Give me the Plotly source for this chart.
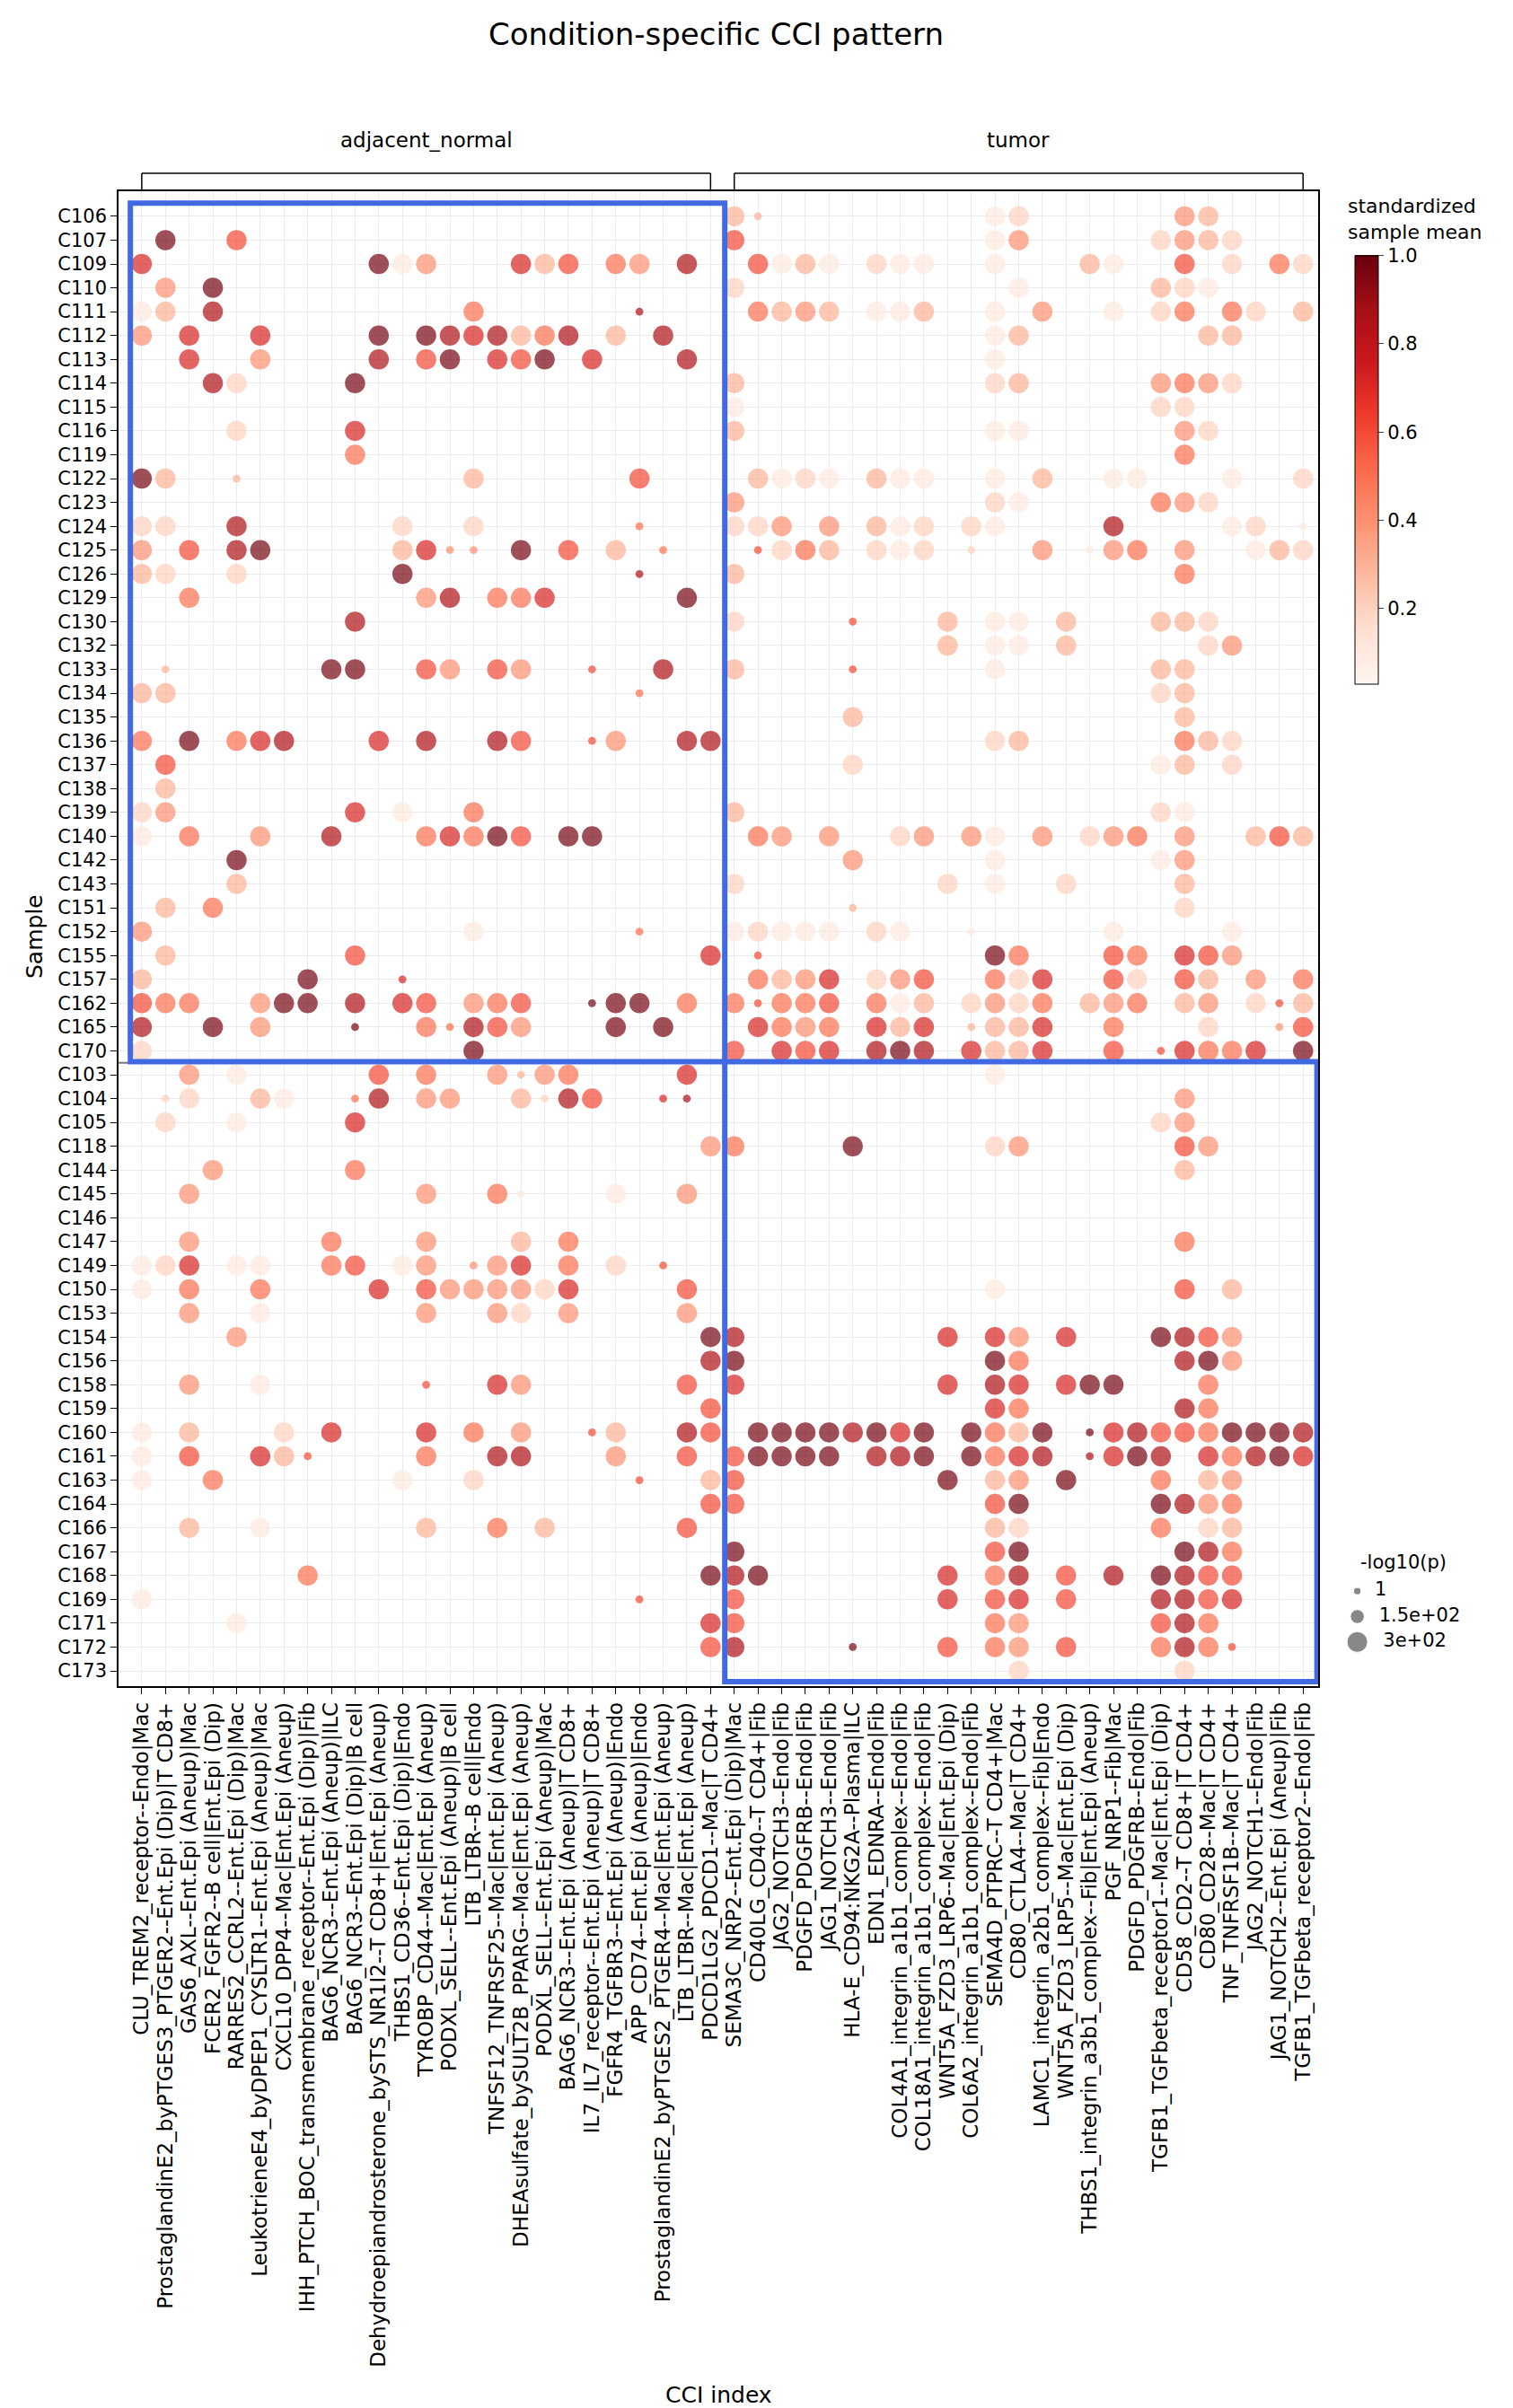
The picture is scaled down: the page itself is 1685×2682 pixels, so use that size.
import plotly.graph_objects as go
import plotly.express as px

cci_labels = [
    "CLU_TREM2_receptor--Endo|Mac",
    "ProstaglandinE2_byPTGES3_PTGER2--Ent.Epi (Dip)|T CD8+",
    "GAS6_AXL--Ent.Epi (Aneup)|Mac",
    "FCER2_FGFR2--B cell|Ent.Epi (Dip)",
    "RARRES2_CCRL2--Ent.Epi (Dip)|Mac",
    "LeukotrieneE4_byDPEP1_CYSLTR1--Ent.Epi (Aneup)|Mac",
    "CXCL10_DPP4--Mac|Ent.Epi (Aneup)",
    "IHH_PTCH_BOC_transmembrane_receptor--Ent.Epi (Dip)|Fib",
    "BAG6_NCR3--Ent.Epi (Aneup)|ILC",
    "BAG6_NCR3--Ent.Epi (Dip)|B cell",
    "Dehydroepiandrosterone_bySTS_NR1I2--T CD8+|Ent.Epi (Aneup)",
    "THBS1_CD36--Ent.Epi (Dip)|Endo",
    "TYROBP_CD44--Mac|Ent.Epi (Aneup)",
    "PODXL_SELL--Ent.Epi (Aneup)|B cell",
    "LTB_LTBR--B cell|Endo",
    "TNFSF12_TNFRSF25--Mac|Ent.Epi (Aneup)",
    "DHEAsulfate_bySULT2B_PPARG--Mac|Ent.Epi (Aneup)",
    "PODXL_SELL--Ent.Epi (Aneup)|Mac",
    "BAG6_NCR3--Ent.Epi (Aneup)|T CD8+",
    "IL7_IL7_receptor--Ent.Epi (Aneup)|T CD8+",
    "FGFR4_TGFBR3--Ent.Epi (Aneup)|Endo",
    "APP_CD74--Ent.Epi (Aneup)|Endo",
    "ProstaglandinE2_byPTGES2_PTGER4--Mac|Ent.Epi (Aneup)",
    "LTB_LTBR--Mac|Ent.Epi (Aneup)",
    "PDCD1LG2_PDCD1--Mac|T CD4+",
    "SEMA3C_NRP2--Ent.Epi (Dip)|Mac",
    "CD40LG_CD40--T CD4+|Fib",
    "JAG2_NOTCH3--Endo|Fib",
    "PDGFD_PDGFRB--Endo|Fib",
    "JAG1_NOTCH3--Endo|Fib",
    "HLA-E_CD94:NKG2A--Plasma|ILC",
    "EDN1_EDNRA--Endo|Fib",
    "COL4A1_integrin_a1b1_complex--Endo|Fib",
    "COL18A1_integrin_a1b1_complex--Endo|Fib",
    "WNT5A_FZD3_LRP6--Mac|Ent.Epi (Dip)",
    "COL6A2_integrin_a1b1_complex--Endo|Fib",
    "SEMA4D_PTPRC--T CD4+|Mac",
    "CD80_CTLA4--Mac|T CD4+",
    "LAMC1_integrin_a2b1_complex--Fib|Endo",
    "WNT5A_FZD3_LRP5--Mac|Ent.Epi (Dip)",
    "THBS1_integrin_a3b1_complex--Fib|Ent.Epi (Aneup)",
    "PGF_NRP1--Fib|Mac",
    "PDGFD_PDGFRB--Endo|Fib",
    "TGFB1_TGFbeta_receptor1--Mac|Ent.Epi (Dip)",
    "CD58_CD2--T CD8+|T CD4+",
    "CD80_CD28--Mac|T CD4+",
    "TNF_TNFRSF1B--Mac|T CD4+",
    "JAG2_NOTCH1--Endo|Fib",
    "JAG1_NOTCH2--Ent.Epi (Aneup)|Fib",
    "TGFB1_TGFbeta_receptor2--Endo|Fib",
]
groups = ["adjacent_normal", "tumor"]

samples_tumor_group = ["C106","C107","C109","C110","C111","C112","C113","C114","C115","C116","C119",
    "C122","C123","C124","C125","C126","C129","C130","C132","C133","C134","C135","C136","C137",
    "C138","C139","C140","C142","C143","C151","C152","C155","C157","C162","C165","C170"]
samples_normal_group = ["C103","C104","C105","C118","C144","C145","C146","C147","C149","C150","C153",
    "C154","C156","C158","C159","C160","C161","C163","C164","C166","C167","C168","C169","C171",
    "C172","C173"]
samples = samples_tumor_group + samples_normal_group

# entries "column:code"; digit = large dot (high -log10 p) with colour level 1-9,
# letter a-i = small dot (low -log10 p) with colour level 1-9
dots = {
"C106": "26:3 27:c 37:1 38:2 45:4 46:3",
"C107": "2:9 5:6 26:6 37:1 38:4 44:2 45:4 46:3 47:2",
"C109": "1:7 11:9 12:1 13:4 17:7 18:3 19:6 21:5 22:4 24:8 27:6 28:1 29:3 30:1 32:2 33:1 34:1 37:1 41:3 42:1 45:6 47:2 49:5 50:2",
"C110": "2:4 4:9 26:2 38:1 44:3 45:2 46:1",
"C111": "1:1 2:3 4:8 15:5 22:h 27:5 28:3 29:4 30:3 32:1 33:1 34:3 37:1 39:4 42:1 44:2 45:5 47:5 48:2 50:3",
"C112": "1:4 3:7 6:7 11:9 13:9 14:8 15:7 16:8 17:3 18:5 19:8 21:3 23:8 37:1 38:3 46:3 47:3",
"C113": "3:7 6:4 11:8 13:6 14:9 16:7 17:6 18:9 20:7 24:8 37:1",
"C114": "4:8 5:2 10:9 26:3 37:2 38:3 44:4 45:5 46:4 47:2",
"C115": "26:1 44:2 45:2",
"C116": "5:2 10:7 26:3 37:1 38:1 45:4 46:2",
"C119": "10:5 45:5",
"C122": "1:9 2:3 5:c 15:3 22:6 27:3 28:1 29:2 30:1 32:3 33:1 34:1 37:1 39:3 42:1 43:1 47:1 50:2",
"C123": "26:4 37:2 38:1 44:5 45:4 46:2",
"C124": "1:2 2:2 5:8 12:2 15:2 22:e 26:2 27:2 28:4 30:4 32:3 33:1 34:2 36:2 37:1 42:8 47:1 48:2 50:a",
"C125": "1:4 3:6 5:8 6:9 12:3 13:7 14:d 15:d 17:9 19:6 21:3 23:e 27:f 28:2 29:5 30:3 32:2 33:1 34:2 36:b 39:4 41:a 42:4 43:5 45:4 48:1 49:3 50:2",
"C126": "1:3 2:2 5:2 12:9 22:h 26:3 45:5",
"C129": "3:5 13:4 14:8 16:5 17:5 18:7 24:9",
"C130": "10:8 26:2 31:f 35:3 37:1 38:1 40:3 44:3 45:3 46:2",
"C132": "35:3 37:1 38:1 40:3 46:2 47:4",
"C133": "2:c 9:9 10:9 13:6 14:4 16:6 17:4 20:f 23:8 26:3 31:f 37:1 44:3 45:3",
"C134": "1:3 2:3 22:e 44:2 45:3",
"C135": "31:3 45:3",
"C136": "1:5 3:9 5:5 6:7 7:8 11:7 13:8 16:8 17:6 20:f 21:4 24:8 25:8 37:2 38:3 45:5 46:3 47:2",
"C137": "2:6 31:2 44:1 45:3 47:2",
"C138": "2:3",
"C139": "1:2 2:4 10:7 12:1 15:5 26:3 44:2 45:1",
"C140": "1:1 3:5 6:4 9:8 13:5 14:7 15:5 16:9 17:6 19:9 20:9 27:5 28:4 30:4 33:2 34:4 36:4 37:1 39:4 41:2 42:4 43:5 45:4 48:3 49:6 50:3",
"C142": "5:9 31:4 37:1 44:1 45:4",
"C143": "5:3 26:2 35:2 37:1 40:2 45:3",
"C151": "2:3 4:5 31:c 45:2",
"C152": "1:4 15:1 22:e 26:1 27:2 28:1 29:1 30:1 32:2 33:1 36:a 42:1 47:1",
"C155": "2:3 10:6 25:7 27:f 37:9 38:5 42:6 43:5 45:7 46:6 47:4",
"C157": "1:3 8:9 12:g 27:5 28:3 29:4 30:7 32:2 33:4 34:6 37:5 38:2 39:7 42:6 43:2 45:6 46:3 48:4 50:5",
"C162": "1:6 2:5 3:5 6:4 7:9 8:9 10:8 12:7 13:6 15:4 16:5 17:6 20:i 21:9 22:9 24:5 26:5 27:f 28:5 29:5 30:6 32:5 33:1 34:3 36:2 37:4 38:2 39:5 41:3 42:4 43:5 45:3 46:4 48:2 49:f 50:3",
"C165": "1:8 4:9 6:4 10:i 13:5 14:e 15:8 16:6 17:4 21:9 23:9 27:7 28:5 29:4 30:5 32:7 33:3 34:7 36:c 37:3 38:3 39:7 42:5 46:2 49:d 50:6",
"C170": "1:2 15:9 26:6 28:7 29:6 30:7 32:8 33:9 34:8 36:7 37:3 38:3 39:7 42:6 44:f 45:7 46:5 47:5 48:7 50:9",
"C103": "3:4 5:1 11:6 13:5 16:4 17:c 18:4 19:5 24:7 37:1",
"C104": "2:b 3:2 6:3 7:1 10:e 11:8 13:4 14:4 17:3 18:b 19:8 20:6 23:g 24:h 45:4",
"C105": "2:2 5:1 10:7 44:2 45:4",
"C118": "25:4 26:5 31:9 37:2 38:4 45:6 46:4",
"C144": "4:4 10:5 45:3",
"C145": "3:4 13:4 16:5 17:a 21:1 24:4",
"C146": "",
"C147": "3:4 9:5 13:4 17:3 19:5 45:5",
"C149": "1:1 2:2 3:7 5:1 6:1 9:5 10:6 12:1 13:4 15:d 16:4 17:7 19:5 21:2 23:f",
"C150": "1:1 3:5 6:5 11:7 13:6 14:4 15:4 16:4 17:4 18:2 19:7 24:6 37:1 45:6 47:3",
"C153": "3:4 6:1 13:4 16:4 17:2 19:4 24:4",
"C154": "5:4 25:9 26:8 35:7 37:7 38:4 40:7 44:9 45:8 46:6 47:4",
"C156": "25:8 26:9 37:9 38:5 45:8 46:9 47:4",
"C158": "3:4 6:1 13:f 16:7 17:4 24:6 26:7 35:7 37:8 38:7 40:7 41:9 42:9 46:5",
"C159": "25:6 37:7 38:5 45:8 46:5",
"C160": "1:1 3:3 7:2 9:7 13:7 15:5 17:4 20:f 21:3 24:8 25:6 27:9 28:9 29:9 30:9 31:8 32:9 33:7 34:9 36:9 37:5 38:3 39:9 41:i 42:7 43:8 44:6 45:6 46:5 47:9 48:9 49:9 50:8",
"C161": "1:1 3:6 6:7 7:3 8:f 13:5 16:8 17:8 21:4 24:6 26:6 27:9 28:9 29:9 30:9 32:8 33:8 34:9 36:9 37:5 38:7 39:8 41:h 42:7 43:9 44:8 46:7 47:5 48:8 49:9 50:7",
"C163": "1:1 4:5 12:1 15:2 22:f 25:3 26:6 35:9 37:3 38:4 40:9 44:5 46:3 47:4",
"C164": "25:6 26:6 37:6 38:9 44:9 45:8 46:4 47:5",
"C166": "3:3 6:1 13:3 16:5 18:3 24:6 37:3 38:2 44:5 46:2 47:3",
"C167": "26:9 37:6 38:9 45:9 46:8 47:5",
"C168": "8:5 25:9 26:8 27:9 35:7 37:5 38:8 40:6 42:8 44:9 45:8 46:6 47:6",
"C169": "1:1 22:f 26:6 35:7 37:6 38:7 40:6 44:8 45:8 46:6 47:7",
"C171": "5:1 25:7 26:6 37:5 38:4 44:6 45:8 46:5",
"C172": "25:6 26:8 31:i 35:6 37:5 38:4 40:6 44:5 45:8 46:5 47:f",
"C173": "38:2 45:2",
}
level_values = [0.1, 0.2, 0.3, 0.4, 0.5, 0.6, 0.72, 0.85, 0.97]
pval_large, pval_small = 290, 15
size_legend_vals = [1, 150, 300]
size_legend_text = ["1", "1.5e+02", "3e+02"]
cbar_ticks = [0.2, 0.4, 0.6, 0.8, 1.0]

def msize(v):
    return 8 + 15 * v / 300

xs, ys, cs, ss = [], [], [], []
for ri, s in enumerate(samples):
    for tok in dots[s].split():
        c, code = tok.split(":")
        if code.isdigit():
            lv, pv = int(code), pval_large
        else:
            lv, pv = ord(code) - ord("a") + 1, pval_small
        xs.append(int(c)); ys.append(ri)
        cs.append(level_values[lv - 1]); ss.append(msize(pv))

W, H = 1685, 2682
L, R, T, B = 124, 20, 205, 812
pw, ph = W - L - R, H - T - B
def px_x(p): return (p - L) / pw
def px_y(p): return (H - B - p) / ph

FONT = "DejaVu Sans"
fig = go.Figure()
fig.add_trace(go.Scatter(
    x=xs, y=ys, mode="markers",
    marker=dict(size=ss, color=cs, colorscale=px.colors.sequential.Reds, cmin=0.03, cmax=1.0,
                line=dict(width=0),
                colorbar=dict(x=px_x(1491), xanchor="left", y=px_y(515), yanchor="middle",
                              lenmode="pixels", len=497, thickness=26, outlinewidth=1,
                              outlinecolor="black", ticks="outside", ticklen=6,
                              tickvals=cbar_ticks, tickformat=".1f",
                              tickfont=dict(size=21, family=FONT))),
    showlegend=False, hoverinfo="skip"))

# size legend
fig.add_trace(go.Scatter(
    x=[0.08] * 3, y=[0, 1, 2], mode="markers+text",
    marker=dict(size=[msize(v) for v in size_legend_vals], color="#555555"),
    text=["  " + t for t in size_legend_text], textposition="middle right",
    textfont=dict(size=21, family=FONT, color="black"),
    xaxis="x2", yaxis="y2", showlegend=False, hoverinfo="skip"))

grid = dict(showgrid=True, gridcolor="#ebebeb", gridwidth=1, zeroline=False,
            showline=True, linecolor="black", linewidth=1.5, mirror=True,
            ticks="outside", ticklen=7, tickcolor="black", automargin=False)
xmax = (1460 - 149.6) / 26.4 + 1
fig.update_layout(
    width=W, height=H, margin=dict(l=L, r=R, t=T, b=B, autoexpand=False),
    plot_bgcolor="white", paper_bgcolor="white",
    font=dict(family=FONT, color="black"),
    xaxis=dict(domain=[0, px_x(1460)], range=[0.02, xmax], tickmode="array",
               tickvals=list(range(1, 51)), ticktext=cci_labels, tickangle=-90,
               tickfont=dict(size=23, family=FONT), **grid),
    yaxis=dict(range=[61.64, -1.05], tickmode="array", tickvals=list(range(len(samples))),
               ticktext=samples, tickfont=dict(size=21, family=FONT), **grid),
    xaxis2=dict(domain=[px_x(1490), px_x(1660)], range=[0, 1], visible=False, anchor="y2"),
    yaxis2=dict(domain=[px_y(1835), px_y(1750)], range=[2.5, -0.5], visible=False, anchor="x2"),
)

shapes = []
shapes.append(dict(type="line", xref="x", yref="y", x0=0.02, x1=xmax, y0=35.5, y1=35.5,
                   line=dict(color="#777777", width=2)))
shapes.append(dict(type="rect", xref="x", yref="y", x0=0.52, x1=25.6, y0=-0.55, y1=35.45,
                   line=dict(color="#4169E1", width=6)))
shapes.append(dict(type="rect", xref="x", yref="y", x0=25.6, x1=xmax - 0.05, y0=35.45, y1=61.45,
                   line=dict(color="#4169E1", width=6)))
for g, (a, b) in zip(groups, [(1, 25), (26, 50)]):
    for xx0, xx1, yy0, yy1 in [(a, b, px_y(185), px_y(185)), (a, a, px_y(185), px_y(205)),
                               (b, b, px_y(185), px_y(205))]:
        shapes.append(dict(type="line", xref="x", yref="paper", x0=xx0, x1=xx1, y0=yy0, y1=yy1,
                           line=dict(color="black", width=1.5)))
fig.update_layout(shapes=shapes)

ann = [
    dict(text="Condition-specific CCI pattern", x=px_x(789), xref="paper", y=px_y(30), yref="paper",
         showarrow=False, font=dict(size=34, family=FONT), xanchor="center", yanchor="middle"),
    dict(text="Sample", x=px_x(30), xref="paper", y=px_y(1035), yref="paper", textangle=-90,
         showarrow=False, font=dict(size=25, family=FONT), xanchor="center", yanchor="middle"),
    dict(text="CCI index", x=px_x(792), xref="paper", y=px_y(2659), yref="paper",
         showarrow=False, font=dict(size=25, family=FONT), xanchor="center", yanchor="middle"),
    dict(text="-log10(p)", x=px_x(1505), xref="paper", y=px_y(1732), yref="paper",
         showarrow=False, font=dict(size=21, family=FONT), xanchor="left", yanchor="middle"),
    dict(text="standardized<br>sample mean", x=px_x(1491), xref="paper", y=px_y(236), yref="paper",
         showarrow=False, font=dict(size=22, family=FONT), xanchor="left", yanchor="middle",
         align="left"),
]
for g, (a, b) in zip(groups, [(1, 25), (26, 50)]):
    ann.append(dict(text=g, x=(a + b) / 2, xref="x", y=px_y(148), yref="paper", showarrow=False,
                    font=dict(size=23, family=FONT), xanchor="center", yanchor="middle"))
fig.update_layout(annotations=ann)

fig.write_html("out.html")
